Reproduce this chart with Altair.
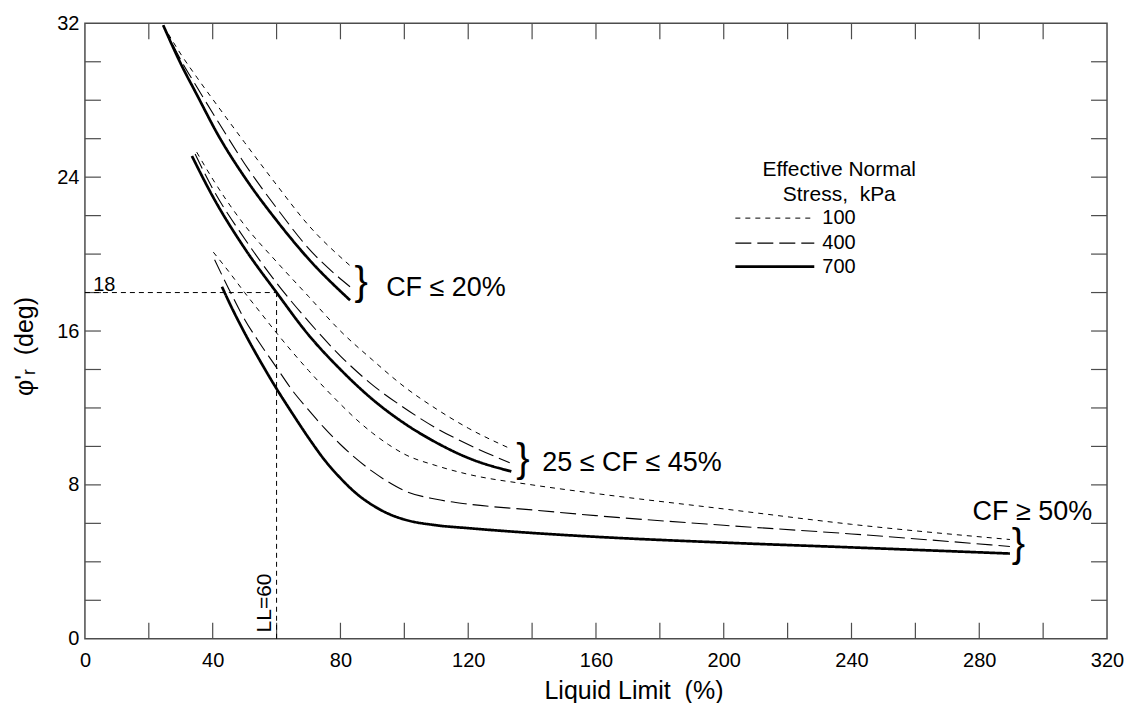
import altair as alt
import pandas as pd

# ---------------- data ----------------
# CF <= 20 %
cf20_700_x = [24.5, 30, 35, 42, 50, 60, 70, 83]
cf20_700_y = [31.9, 29.9, 28.3, 26.1, 24.0, 21.75, 19.75, 17.6]
cf20_400_x = [24.5, 30, 35, 42, 50, 60, 70, 83]
cf20_400_y = [31.9, 30.1, 28.7, 26.8, 24.7, 22.4, 20.3, 18.3]
cf20_100_x = [24.5, 30, 35, 42, 50, 60, 70, 83]
cf20_100_y = [31.9, 30.4, 29.2, 27.6, 25.8, 23.6, 21.5, 19.4]

# 25 <= CF <= 45 %
cf45_700_x = [33.5, 40, 50, 60, 70, 80, 90, 100, 110, 120, 133.5]
cf45_700_y = [25.1, 23.0, 20.3, 18.0, 15.8, 14.0, 12.45, 11.2, 10.2, 9.4, 8.7]
cf45_400_x = [34.5, 40, 50, 60, 70, 80, 90, 100, 110, 120, 133]
cf45_400_y = [25.2, 23.4, 20.8, 18.5, 16.5, 14.7, 13.2, 12.0, 10.95, 10.1, 9.15]
cf45_100_x = [35, 40, 50, 60, 70, 80, 90, 100, 110, 120, 133]
cf45_100_y = [25.3, 23.9, 21.5, 19.6, 17.8, 16.0, 14.5, 13.1, 11.95, 10.95, 9.9]

# CF >= 50 %
cf50_700_x = [42.9, 46, 50, 55, 60, 65, 70, 75, 80, 85, 90, 95, 100, 110, 120, 140, 160, 200, 240, 289.6]
cf50_700_y = [18.3, 17.2, 15.9, 14.4, 13.0, 11.7, 10.45, 9.3, 8.35, 7.55, 6.95, 6.5, 6.2, 5.9, 5.75, 5.5, 5.3, 5.0, 4.75, 4.43]
cf50_400_x = [40.6, 45, 50, 55, 60, 65, 70, 75, 80, 85, 90, 95, 100, 110, 120, 140, 160, 200, 240, 289.6]
cf50_400_y = [19.7, 18.2, 16.6, 15.3, 14.1, 12.9, 11.9, 10.95, 10.1, 9.35, 8.7, 8.15, 7.7, 7.25, 7.0, 6.7, 6.4, 5.9, 5.45, 4.8]
cf50_100_x = [40.2, 45, 50, 55, 60, 65, 70, 75, 80, 85, 90, 95, 100, 110, 120, 140, 160, 200, 240, 289.6]
cf50_100_y = [20.1, 19.1, 18.0, 16.95, 15.9, 14.9, 13.95, 13.05, 12.2, 11.4, 10.7, 10.1, 9.6, 9.0, 8.55, 8.0, 7.55, 6.75, 5.95, 5.16]

stress_levels = ["100", "400", "700"]
x_labels = [0, 40, 80, 120, 160, 200, 240, 280, 320]
y_labels = [0, 8, 16, 24, 32]
x_minor = list(range(20, 320, 20))
y_minor = list(range(2, 32, 2))

ll_value = 60
phi_value = 18

group_labels = ["CF \u2264 20%", "25 \u2264 CF \u2264 45%", "CF \u2265 50%"]
group_label_x = [94.3, 143.2, 277.9]
group_label_y = [18.25, 9.16, 6.6]
brace_x = [86.5, 137.1, 292.3]
brace_y = [18.5, 9.31, 4.85]

# ---------------- build tables ----------------
curves = [
    ("cf20", "700", cf20_700_x, cf20_700_y), ("cf20", "400", cf20_400_x, cf20_400_y), ("cf20", "100", cf20_100_x, cf20_100_y),
    ("cf45", "700", cf45_700_x, cf45_700_y), ("cf45", "400", cf45_400_x, cf45_400_y), ("cf45", "100", cf45_100_x, cf45_100_y),
    ("cf50", "700", cf50_700_x, cf50_700_y), ("cf50", "400", cf50_400_x, cf50_400_y), ("cf50", "100", cf50_100_x, cf50_100_y),
]
rows = []
for g, s, xs, ys in curves:
    for xv, yv in zip(xs, ys):
        rows.append({"x": xv, "y": yv, "stress": s, "curve": g + "_" + s})
df = pd.DataFrame(rows)

W, H = 1023, 616
FONT = "Liberation Sans, Arial, Helvetica, sans-serif"
FRAME = "#4d4d4d"

x_scale = alt.Scale(domain=[0, 320], nice=False, zero=False)
y_scale = alt.Scale(domain=[0, 32], nice=False, zero=False)
x_axis = alt.Axis(values=x_labels, title="Liquid Limit\u00a0\u00a0(%)", titleX=549, titleY=60,
                  titleBaseline="alphabetic", titleAlign="center", labelPadding=12, tickSize=0,
                  labelFlush=False, labelOverlap=False, grid=False, domain=False, ticks=False)
y_axis = alt.Axis(values=y_labels, title="\u03c6'\u1d63\u00a0\u00a0(deg)", titleX=-52, titleY=323,
                  titleAngle=270, titleBaseline="alphabetic", titleAlign="center", labelPadding=6,
                  tickSize=0, labelFlush=False, labelOverlap=False, grid=False, domain=False, ticks=False)


def X(field, t="quantitative"):
    return alt.X(field, type=t, scale=x_scale, axis=x_axis)


def Y(field, t="quantitative"):
    return alt.Y(field, type=t, scale=y_scale, axis=y_axis)


line_dash = {"100": [5, 5], "400": [16, 6], "700": [1, 0]}
line_width = {"100": 1.0, "400": 1.1, "700": 2.7}

line_layers = []
for s in stress_levels:
    line_layers.append(
        alt.Chart(df[df["stress"] == s]).mark_line(
            interpolate="monotone", color="black", strokeDash=line_dash[s], strokeWidth=line_width[s]
        ).encode(x=X("x"), y=Y("y"), detail="curve:N")
    )

# inward ticks on all four sides
xt = pd.DataFrame({"v": x_minor})
yt = pd.DataFrame({"v": y_minor})
tick_style = dict(color=FRAME, strokeWidth=1.2)
tb = alt.Chart(xt).mark_rule(**tick_style).encode(x=X("v"), y=alt.value(H), y2=alt.value(H - 16))
tt = alt.Chart(xt).mark_rule(**tick_style).encode(x=X("v"), y=alt.value(0), y2=alt.value(16))
tl = alt.Chart(yt).mark_rule(**tick_style).encode(y=Y("v"), x=alt.value(0), x2=alt.value(16))
tr = alt.Chart(yt).mark_rule(**tick_style).encode(y=Y("v"), x=alt.value(W), x2=alt.value(W - 16))

# LL = 60 reference lines
ref_h = alt.Chart(pd.DataFrame({"a": [0]})).mark_rule(color="black", strokeWidth=1, strokeDash=[5, 4]).encode(
    x=alt.datum(0, scale=x_scale, axis=x_axis), x2=alt.datum(ll_value), y=alt.datum(phi_value, scale=y_scale, axis=y_axis))
ref_v = alt.Chart(pd.DataFrame({"a": [0]})).mark_rule(color="black", strokeWidth=1, strokeDash=[5, 4]).encode(
    x=alt.datum(ll_value, scale=x_scale, axis=x_axis), y=alt.datum(0, scale=y_scale, axis=y_axis), y2=alt.datum(phi_value))
lab18 = alt.Chart(pd.DataFrame({"x": [2.6], "y": [phi_value], "t": [str(phi_value)]})).mark_text(
    align="left", baseline="alphabetic", dy=-2, fontSize=20, font=FONT, color="black").encode(x=X("x"), y=Y("y"), text="t:N")
labll = alt.Chart(pd.DataFrame({"x": [58.4], "y": [0.33], "t": ["LL=%d" % ll_value]})).mark_text(
    align="left", baseline="alphabetic", angle=270, fontSize=21, font=FONT, color="black").encode(x=X("x"), y=Y("y"), text="t:N")

# group labels and braces
gdf = pd.DataFrame({"x": group_label_x, "y": group_label_y, "t": group_labels})
glab = alt.Chart(gdf).mark_text(align="left", baseline="middle", fontSize=27, font=FONT, color="black").encode(
    x=X("x"), y=Y("y"), text="t:N")
bdf = pd.DataFrame({"x": brace_x, "y": brace_y, "t": ["}"] * 3})
braces = alt.Chart(bdf).mark_text(align="center", baseline="middle", fontSize=40, font=FONT, color="black").encode(
    x=X("x"), y=Y("y"), text="t:N")

# legend (drawn as a guide inside the plot)
leg_layers = []
one = pd.DataFrame({"a": [0]})
leg_layers.append(alt.Chart(one).mark_text(fontSize=21, font=FONT, color="black", align="center", baseline="middle").encode(
    x=alt.value(755), y=alt.value(147), text=alt.value("Effective Normal")))
leg_layers.append(alt.Chart(one).mark_text(fontSize=21, font=FONT, color="black", align="center", baseline="middle").encode(
    x=alt.value(755), y=alt.value(172), text=alt.value("Stress,\u00a0\u00a0kPa")))
leg_rows = [195, 220, 243.5]
for s, ry in zip(stress_levels, leg_rows):
    leg_layers.append(alt.Chart(one).mark_rule(color="black", strokeDash=line_dash[s], strokeWidth=line_width[s]).encode(
        x=alt.value(651), x2=alt.value(730), y=alt.value(ry)))
    leg_layers.append(alt.Chart(one).mark_text(fontSize=20, font=FONT, color="black", align="left", baseline="middle").encode(
        x=alt.value(738), y=alt.value(ry), text=alt.value(s)))

chart = alt.layer(*line_layers, tb, tt, tl, tr, ref_h, ref_v, lab18, labll, glab, braces, *leg_layers).properties(
    width=W, height=H,
    autosize=alt.AutoSizeParams(type="none"),
    padding={"left": 77, "top": 15, "right": 24, "bottom": 64},
    background="white",
).configure_view(stroke=FRAME, strokeWidth=1.5).configure_axis(
    domain=False, ticks=False, grid=False, labelFont=FONT, labelFontSize=20, labelColor="black",
    titleFont=FONT, titleFontSize=25, titleFontWeight="normal", titleColor="black",
)

chart.save("out.html", embed_options={"renderer": "svg", "actions": False})
